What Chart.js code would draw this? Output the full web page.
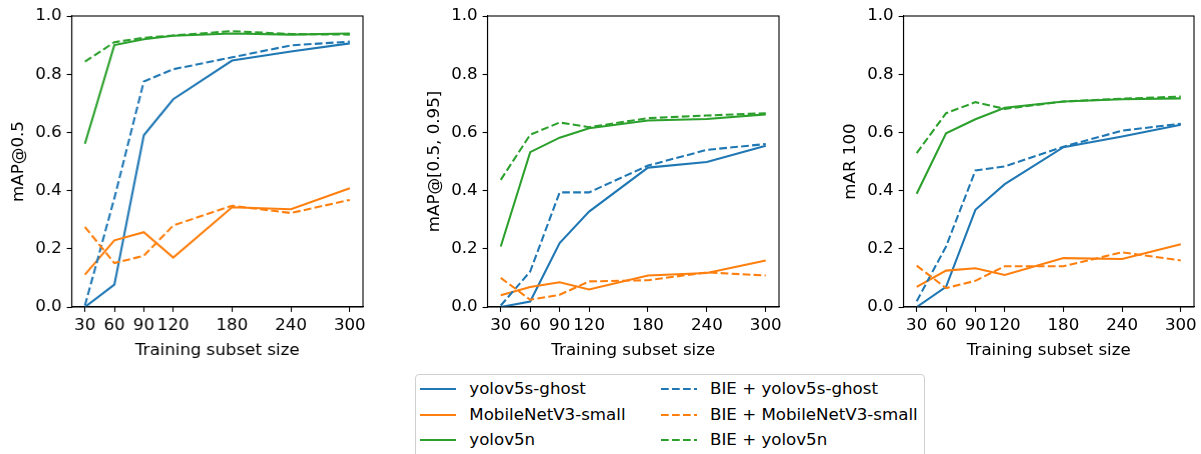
<!DOCTYPE html>
<html>
<head>
<meta charset="utf-8">
<script src="https://cdn.jsdelivr.net/npm/chart.js@4"></script>
<style>
  html, body { margin: 0; padding: 0; background: #fff; }
  body { width: 1201px; height: 454px; position: relative; overflow: hidden; font-family: "DejaVu Sans", sans-serif; }
  .cv { position: absolute; top: 0; }
  #legend { position: absolute; left: 415px; top: 374px; width: 510px; height: 100px; border: 1px solid #d0d0d0; border-radius: 4px; box-sizing: border-box; }
  .li { position: absolute; height: 20px; font-size: 16.67px; color: #000; line-height: 20px; white-space: nowrap; }
  .li svg { position: absolute; left: 0; top: 5px; }
  .li span { position: absolute; left: 49.3px; top: 0; }
</style>
</head>
<body>
<canvas id="c1" class="cv"></canvas>
<canvas id="c2" class="cv"></canvas>
<canvas id="c3" class="cv"></canvas>
<div id="legend"></div>
<script>
// ---- data ----
const sizes = [30, 60, 90, 120, 180, 240, 300];
const xTicks = [30, 60, 90, 120, 180, 240, 300];
const yTicks = [0, 0.2, 0.4, 0.6, 0.8, 1.0];
const modelNames = ['yolov5s-ghost', 'MobileNetV3-small', 'yolov5n'];
const bieNames = ['BIE + yolov5s-ghost', 'BIE + MobileNetV3-small', 'BIE + yolov5n'];
const yTitles = ['mAP@0.5', 'mAP@[0.5, 0.95]', 'mAR 100'];
const xTitle = 'Training subset size';

// mAP@0.5
const map50Ghost      = [0.000, 0.077, 0.590, 0.714, 0.847, 0.878, 0.906];
const map50Mobile     = [0.111, 0.229, 0.257, 0.170, 0.343, 0.336, 0.408];
const map50Nano       = [0.561, 0.900, 0.920, 0.932, 0.940, 0.936, 0.940];
const map50BieGhost   = [0.005, 0.374, 0.775, 0.817, 0.858, 0.899, 0.912];
const map50BieMobile  = [0.275, 0.151, 0.176, 0.280, 0.348, 0.323, 0.368];
const map50BieNano    = [0.843, 0.910, 0.925, 0.933, 0.948, 0.938, 0.936];
// mAP@[0.5, 0.95]
const mapFullGhost     = [0.000, 0.019, 0.220, 0.328, 0.479, 0.498, 0.554];
const mapFullMobile    = [0.040, 0.069, 0.085, 0.060, 0.108, 0.117, 0.160];
const mapFullNano      = [0.208, 0.532, 0.582, 0.614, 0.641, 0.646, 0.662];
const mapFullBieGhost  = [0.005, 0.122, 0.394, 0.394, 0.486, 0.540, 0.560];
const mapFullBieMobile = [0.100, 0.025, 0.042, 0.088, 0.092, 0.119, 0.108];
const mapFullBieNano   = [0.437, 0.592, 0.634, 0.618, 0.649, 0.658, 0.666];
// mAR 100
const mar100Ghost     = [0.000, 0.069, 0.334, 0.422, 0.549, 0.586, 0.626];
const mar100Mobile    = [0.069, 0.125, 0.133, 0.110, 0.168, 0.165, 0.216];
const mar100Nano      = [0.389, 0.597, 0.645, 0.685, 0.706, 0.714, 0.717];
const mar100BieGhost  = [0.020, 0.208, 0.469, 0.483, 0.551, 0.606, 0.630];
const mar100BieMobile = [0.142, 0.065, 0.090, 0.140, 0.140, 0.188, 0.160];
const mar100BieNano   = [0.529, 0.666, 0.704, 0.681, 0.706, 0.716, 0.723];

// ---- style ----
const colors = ['#1f77b4', '#ff7f0e', '#2ca02c'];
const DASH = [7.7, 3.3];
const FONT = { family: 'DejaVu Sans', size: 16.67, lineHeight: 1.2 };

const panels = [
  { id: 'c1', plotLeft: 71.7, plotRight: 363, title: yTitles[0],
    solid: [map50Ghost, map50Mobile, map50Nano], dashed: [map50BieGhost, map50BieMobile, map50BieNano] },
  { id: 'c2', plotLeft: 487.5, plotRight: 779, title: yTitles[1],
    solid: [mapFullGhost, mapFullMobile, mapFullNano], dashed: [mapFullBieGhost, mapFullBieMobile, mapFullBieNano] },
  { id: 'c3', plotLeft: 903.5, plotRight: 1194, title: yTitles[2],
    solid: [mar100Ghost, mar100Mobile, mar100Nano], dashed: [mar100BieGhost, mar100BieMobile, mar100BieNano] },
];

const PLOT_TOP = 16;
const PLOT_BOTTOM = 307;
const CANVAS_H = 361;
const PAD_LEFT = 9;
const Y_AXIS_W = 71.5 - PAD_LEFT;
const PAD_RIGHT = 6;

const framePlugin = {
  id: 'frame',
  afterDatasetsDraw(chart) {
    const a = chart.chartArea, ctx = chart.ctx;
    ctx.save();
    ctx.strokeStyle = '#000';
    ctx.lineWidth = 1.1;
    ctx.strokeRect(a.left, a.top, a.right - a.left, a.bottom - a.top);
    ctx.restore();
  }
};

panels.forEach(p => {
  const cv = document.getElementById(p.id);
  const left = p.plotLeft - Y_AXIS_W - PAD_LEFT;
  const w = (p.plotRight - p.plotLeft) + Y_AXIS_W + PAD_LEFT + PAD_RIGHT;
  cv.style.left = left + 'px';
  cv.style.width = w + 'px';
  cv.style.height = CANVAS_H + 'px';
  cv.width = w; cv.height = CANVAS_H;

  const datasets = [];
  p.solid.forEach((arr, i) => datasets.push({
    label: modelNames[i],
    data: sizes.map((s, k) => ({ x: s, y: arr[k] })),
    borderColor: colors[i], backgroundColor: colors[i],
    borderWidth: 2.08, pointRadius: 0, tension: 0, fill: false,
    order: 10 - i
  }));
  p.dashed.forEach((arr, i) => datasets.push({
    label: bieNames[i],
    data: sizes.map((s, k) => ({ x: s, y: arr[k] })),
    borderColor: colors[i], backgroundColor: colors[i],
    borderWidth: 2.08, borderDash: DASH, pointRadius: 0, tension: 0, fill: false,
    order: 7 - i
  }));

  new Chart(cv, {
    type: 'line',
    data: { datasets },
    plugins: [framePlugin],
    options: {
      responsive: false,
      animation: false,
      devicePixelRatio: 1,
      layout: { padding: { left: PAD_LEFT, right: PAD_RIGHT, top: PLOT_TOP, bottom: 0 } },
      plugins: { legend: { display: false }, tooltip: { enabled: false } },
      scales: {
        x: {
          type: 'linear', min: 16.5, max: 313.5,
          afterBuildTicks: s => { s.ticks = xTicks.map(v => ({ value: v })); },
          afterFit: s => { s.height = CANVAS_H - PLOT_BOTTOM; s.paddingLeft = 0; s.paddingRight = 0; },
          grid: { drawOnChartArea: false, drawTicks: true, tickLength: 4.9, color: '#000', tickColor: '#000', tickWidth: 1.1 },
          border: { display: true, color: '#000', width: 1.1 },
          ticks: { font: FONT, color: '#000', padding: 4, maxRotation: 0, autoSkip: false, callback: v => String(v) },
          title: { display: true, text: xTitle, font: FONT, color: '#000', padding: { top: 0, bottom: 0 } }
        },
        y: {
          type: 'linear', min: 0, max: 1,
          afterBuildTicks: s => { s.ticks = yTicks.map(v => ({ value: v })); },
          afterFit: s => { s.width = Y_AXIS_W; s.paddingTop = 0; s.paddingBottom = 0; },
          grid: { drawOnChartArea: false, drawTicks: true, tickLength: 4.9, color: '#000', tickColor: '#000', tickWidth: 1.1 },
          border: { display: true, color: '#000', width: 1.1 },
          ticks: { font: FONT, color: '#000', padding: 4.9, callback: v => Number(v).toFixed(1) },
          title: { display: true, text: p.title, font: FONT, color: '#000', padding: { top: 0, bottom: 0 } }
        }
      }
    }
  });
});

// ---- legend (HTML, built from the same names/colours) ----
const legend = document.getElementById('legend');
const rowsY = [4.3, 30, 55];
const colsX = [4, 244.7];
function addItem(name, color, dashed, x, y) {
  const d = document.createElement('div');
  d.className = 'li';
  d.style.left = x + 'px'; d.style.top = y + 'px';
  d.innerHTML = '<svg width="36" height="10"><line x1="0" y1="5" x2="36" y2="5" stroke="' + color +
    '" stroke-width="2.08"' + (dashed ? ' stroke-dasharray="' + DASH.join(',') + '"' : '') + '/></svg><span>' + name + '</span>';
  legend.appendChild(d);
}
modelNames.forEach((n, i) => addItem(n, colors[i], false, colsX[0], rowsY[i]));
bieNames.forEach((n, i) => addItem(n, colors[i], true, colsX[1], rowsY[i]));
</script>
</body>
</html>
